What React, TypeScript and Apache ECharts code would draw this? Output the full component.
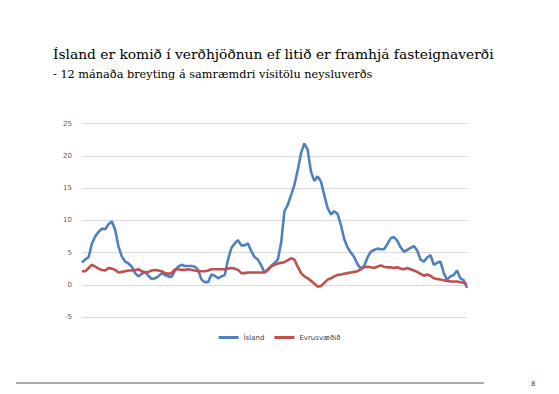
import React, { useEffect, useRef } from "react";
import * as echarts from "echarts";

const TITLE = "Ísland er komið í verðhjöðnun ef litið er framhjá fasteignaverði";
const SUBTITLE = "- 12 mánaða breyting á samræmdri vísitölu neysluverðs";
const SERIES_NAMES = ["Ísland", "Evrusvæðið"];
const Y_TICKS = [-5, 0, 5, 10, 15, 20, 25];
const PAGE_NUMBER = "8";

const islandValues = [
  3.45, 3.9, 4.3, 6.4, 7.5, 8.2, 8.7, 8.6, 9.4, 9.8,
  8.5, 5.9, 4.4, 3.6, 3.3, 2.8, 1.8, 1.3, 1.7, 2.0,
  1.4, 0.9, 1.0, 1.3, 1.8, 1.5, 1.3, 1.2, 2.2, 2.8,
  3.1, 2.9, 2.9, 2.9, 2.8, 2.3, 0.8, 0.4, 0.4, 1.6,
  1.4, 1.0, 1.3, 1.5, 3.9, 5.7, 6.4, 6.9, 6.1, 6.1,
  6.4, 5.2, 4.3, 3.9, 3.0, 1.9, 2.4, 2.9, 3.4, 3.9,
  6.5, 11.4, 12.4, 13.9, 15.5, 17.8, 20.4, 21.9, 20.9, 17.5,
  16.1, 16.8, 16.0, 13.9, 11.9, 10.9, 11.4, 11.0, 9.3, 7.1,
  5.8, 5.0, 4.3, 3.2, 2.5, 2.9, 4.2, 5.1, 5.4, 5.6,
  5.5, 5.5, 6.3, 7.2, 7.4, 6.8, 5.8, 5.1, 5.4, 5.7,
  6.0, 5.3, 3.9, 3.6, 4.2, 4.6, 3.1, 3.4, 3.6, 1.8,
  0.8, 1.3, 1.5, 2.2, 1.0, 0.7, -0.5,
];

const euroValues = [
  2.1, 2.1, 2.6, 3.1, 2.8, 2.5, 2.3, 2.2, 2.6, 2.5,
  2.3, 1.9, 2.0, 2.1, 2.2, 2.2, 2.3, 2.4, 2.1, 1.9,
  2.0, 2.2, 2.3, 2.2, 2.1, 1.8, 1.7, 1.8, 2.4, 2.4,
  2.3, 2.3, 2.4, 2.3, 2.2, 2.1, 2.1, 2.1, 2.2, 2.4,
  2.4, 2.4, 2.4, 2.4, 2.5, 2.6, 2.5, 2.3, 1.8, 1.8,
  1.9, 1.9, 1.9, 1.9, 1.9, 1.9, 2.3, 2.8, 3.1, 3.3,
  3.4, 3.5, 3.8, 4.1, 3.9, 2.8, 1.8, 1.3, 1.0, 0.6,
  0.2, -0.3, -0.2, 0.3, 0.8, 1.0, 1.3, 1.5, 1.6, 1.7,
  1.8, 1.9, 2.0, 2.1, 2.4, 2.7, 2.8, 2.7, 2.6, 2.8,
  3.0, 2.8, 2.7, 2.7, 2.6, 2.7, 2.5, 2.4, 2.6, 2.4,
  2.2, 2.0, 1.7, 1.4, 1.6, 1.4, 1.0, 0.9, 0.8, 0.7,
  0.6, 0.5, 0.5, 0.5, 0.4, 0.3, 0.1,
];

const categories = islandValues.map((_, i) => String(i + 1));

export default function App() {
  const ref = useRef<HTMLDivElement>(null);
  useEffect(() => {
    if (!ref.current) return;
    const chart = echarts.init(ref.current, null, { renderer: "svg" });
    const yMin = Y_TICKS[0];
    const yMax = Y_TICKS[Y_TICKS.length - 1];
    chart.setOption({
      animation: false,
      backgroundColor: "#ffffff",
      grid: { left: 82, right: 92, top: 123.5, bottom: 77, containLabel: false },
      legend: {
        data: SERIES_NAMES,
        bottom: 48,
        left: "center",
        itemWidth: 20,
        itemHeight: 3,
        itemGap: 10,
        icon: "rect",
        textStyle: { fontSize: 7, color: "#404040", fontFamily: "DejaVu Sans" },
      },
      xAxis: {
        type: "category",
        data: categories,
        boundaryGap: false,
        axisLine: { show: false },
        axisTick: { show: false },
        axisLabel: { show: false },
        splitLine: { show: false },
      },
      yAxis: {
        type: "value",
        min: yMin,
        max: yMax,
        interval: 5,
        axisLine: { show: false },
        axisTick: { show: false },
        axisLabel: { fontSize: 7, color: "#595959", margin: 10, fontFamily: "DejaVu Sans" },
        splitLine: { lineStyle: { color: "#d9d9d9", width: 1 } },
      },
      series: [
        {
          name: SERIES_NAMES[0],
          type: "line",
          data: islandValues,
          showSymbol: false,
          lineStyle: { color: "#4f81bd", width: 2.6 },
          itemStyle: { color: "#4f81bd" },
        },
        {
          name: SERIES_NAMES[1],
          type: "line",
          data: euroValues,
          showSymbol: false,
          lineStyle: { color: "#c0504d", width: 2.6 },
          itemStyle: { color: "#c0504d" },
        },
      ],
      graphic: [
        {
          type: "text",
          left: 53,
          top: 47,
          style: { text: TITLE, fontSize: 13.8, fontFamily: "DejaVu Serif", fill: "#000" },
        },
        {
          type: "text",
          left: 53,
          top: 69,
          style: { text: SUBTITLE, fontSize: 11.3, fontFamily: "DejaVu Serif", fill: "#000" },
        },
        {
          type: "line",
          shape: { x1: 16, y1: 383, x2: 484, y2: 383 },
          style: { stroke: "#595959", lineWidth: 1 },
        },
        {
          type: "text",
          left: 531,
          top: 380,
          style: { text: PAGE_NUMBER, fontSize: 7, fontFamily: "DejaVu Sans", fill: "#404040" },
        },
      ],
    });
    return () => chart.dispose();
  }, []);
  return <div ref={ref} style={{ width: 559, height: 394, position: "absolute", left: 0, top: 0 }} />;
}
